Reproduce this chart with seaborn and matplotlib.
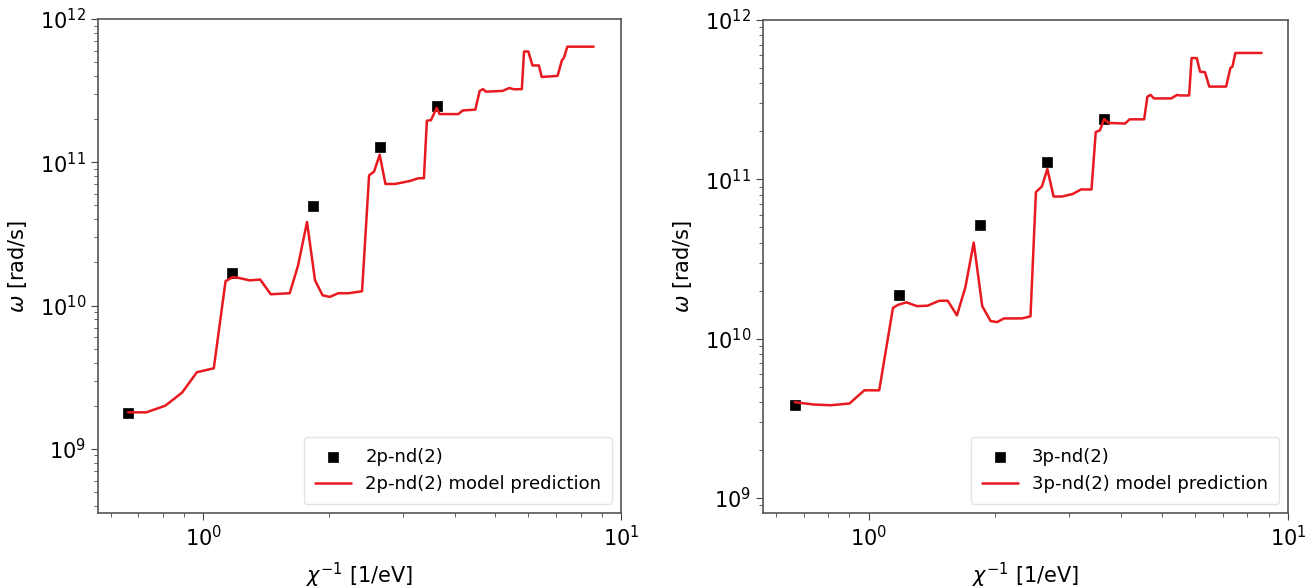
import numpy as np
import pandas as pd
import seaborn as sns
import matplotlib.pyplot as plt

# measured points (2p-nd(2) and 3p-nd(2))
meas_x_2p = [0.661, 1.174, 1.835, 2.645, 3.62]
meas_y_2p = [1.77e9, 1.69e10, 4.98e10, 1.27e11, 2.47e11]

meas_x_3p = [0.667, 1.184, 1.848, 2.663, 3.645]
meas_y_3p = [3.86e9, 1.88e10, 5.14e10, 1.28e11, 2.40e11]

# model predictions
model_x_2p = [0.661, 0.731, 0.811, 0.890, 0.966, 1.06, 1.131, 1.177, 1.205, 1.292,
              1.369, 1.451, 1.611, 1.687, 1.772, 1.852, 1.931, 2.01, 2.105, 2.232,
              2.40, 2.495, 2.565, 2.645, 2.73, 2.88, 3.126, 3.274, 3.375, 3.43,
              3.51, 3.62, 3.68, 4.08, 4.18, 4.48, 4.59, 4.675, 4.75, 5.21,
              5.40, 5.55, 5.79, 5.86, 6.00, 6.14, 6.36, 6.46, 7.05, 7.22,
              7.30, 7.44, 8.60]
model_y_2p = [1.80e9, 1.80e9, 2.00e9, 2.47e9, 3.43e9, 3.65e9, 1.48e10, 1.58e10, 1.57e10, 1.50e10,
              1.52e10, 1.20e10, 1.22e10, 1.91e10, 3.83e10, 1.50e10, 1.18e10, 1.15e10, 1.22e10, 1.22e10,
              1.26e10, 8.11e10, 8.63e10, 1.13e11, 7.06e10, 7.06e10, 7.41e10, 7.74e10, 7.74e10, 1.95e11,
              1.97e11, 2.40e11, 2.17e11, 2.17e11, 2.30e11, 2.33e11, 3.15e11, 3.24e11, 3.11e11, 3.15e11,
              3.30e11, 3.23e11, 3.24e11, 5.93e11, 5.93e11, 4.74e11, 4.74e11, 3.94e11, 4.01e11, 5.15e11,
              5.35e11, 6.41e11, 6.41e11]

model_x_3p = [0.667, 0.741, 0.812, 0.901, 0.944, 0.977, 1.06, 1.143, 1.175, 1.231,
              1.304, 1.382, 1.474, 1.544, 1.624, 1.701, 1.781, 1.866, 1.954, 2.023,
              2.103, 2.323, 2.432, 2.506, 2.589, 2.668, 2.761, 2.891, 3.066, 3.21,
              3.40, 3.48, 3.56, 3.645, 3.73, 4.09, 4.19, 4.54, 4.62, 4.70,
              4.79, 5.27, 5.44, 5.52, 5.81, 5.89, 6.06, 6.17, 6.34, 6.49,
              7.12, 7.29, 7.37, 7.49, 8.65]
model_y_3p = [3.99e9, 3.86e9, 3.82e9, 3.92e9, 4.38e9, 4.74e9, 4.74e9, 1.56e10, 1.63e10, 1.69e10,
              1.60e10, 1.61e10, 1.73e10, 1.73e10, 1.40e10, 2.10e10, 4.01e10, 1.60e10, 1.29e10, 1.27e10,
              1.34e10, 1.34e10, 1.38e10, 8.32e10, 9.02e10, 1.16e11, 7.80e10, 7.80e10, 8.09e10, 8.64e10,
              8.64e10, 1.98e11, 2.03e11, 2.39e11, 2.26e11, 2.24e11, 2.38e11, 2.38e11, 3.30e11, 3.39e11,
              3.22e11, 3.22e11, 3.39e11, 3.36e11, 3.36e11, 5.77e11, 5.77e11, 4.74e11, 4.70e11, 3.82e11,
              3.82e11, 5.01e11, 5.09e11, 6.21e11, 6.21e11]

panels = [
    ("2p-nd(2)", meas_x_2p, meas_y_2p, model_x_2p, model_y_2p, (3.57e8, 1e12)),
    ("3p-nd(2)", meas_x_3p, meas_y_3p, model_x_3p, model_y_3p, (8.05e8, 1e12)),
]

sns.set_style("ticks")
plt.rcParams["font.family"] = ["DejaVu Sans"]
plt.rcParams["text.color"] = "black"
plt.rcParams["axes.labelcolor"] = "black"

fig = plt.figure(figsize=(13.16, 5.88), dpi=100)
ax_rects = [
    [98 / 1316, 1 - 513 / 588, 523 / 1316, 494 / 588],
    [763 / 1316, 1 - 513 / 588, 525 / 1316, 493 / 588],
]

for rect, (name, mx, my, lx, ly, ylim) in zip(ax_rects, panels):
    ax = fig.add_axes(rect)
    ax.set_xscale("log")
    ax.set_yscale("log")

    df_meas = pd.DataFrame({"x": mx, "y": my})
    df_model = pd.DataFrame({"x": lx, "y": ly})

    sns.scatterplot(data=df_meas, x="x", y="y", ax=ax, marker="s", s=55,
                    color="black", edgecolor="black", linewidth=0.5,
                    label=name, zorder=2)
    sns.lineplot(data=df_model, x="x", y="y", ax=ax, color="#e8191f",
                 linewidth=1.8, sort=False, estimator=None,
                 label=f"{name} model prediction", zorder=3)

    ax.set_xlim(0.56, 10)
    ax.set_ylim(*ylim)
    ax.set_xlabel(r"$\chi^{-1}$ [1/eV]", fontsize=15, labelpad=8)
    ax.set_ylabel(r"$\omega$ [rad/s]", fontsize=15, labelpad=8)
    ax.tick_params(axis="both", which="major", labelsize=15, length=5,
                   color="#444444", labelcolor="black")
    ax.tick_params(axis="both", which="minor", length=3, color="#444444")
    for sp in ax.spines.values():
        sp.set_color("#555555")
        sp.set_linewidth(1.2)

    leg = ax.legend(loc="lower right", fontsize=13, frameon=True,
                    handlelength=2.0, borderpad=0.6)
    leg.get_frame().set_edgecolor("#dddddd")

fig.savefig("out.png", dpi=100, facecolor="white")
